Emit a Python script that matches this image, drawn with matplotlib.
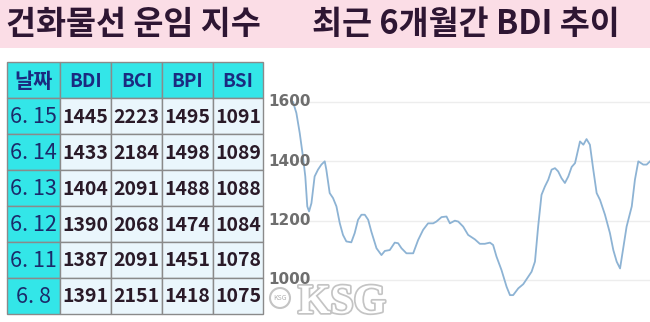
import matplotlib
matplotlib.use("Agg")
import matplotlib.pyplot as plt
import matplotlib.patheffects as pe
from matplotlib.patches import Rectangle

plt.rcParams['font.family'] = ['Noto Sans CJK KR', 'DejaVu Sans']

title_left = "건화물선 운임 지수"
title_right = "최근 6개월간 BDI 추이"

columns = ["날짜", "BDI", "BCI", "BPI", "BSI"]
dates = ["6. 15", "6. 14", "6. 13", "6. 12", "6. 11", "6. 8"]
bdi = [1445, 1433, 1404, 1390, 1387, 1391]
bci = [2223, 2184, 2091, 2068, 2091, 2151]
bpi = [1495, 1498, 1488, 1474, 1451, 1418]
bsi = [1091, 1089, 1088, 1084, 1078, 1075]

# 6-month BDI trend (day offset, value)
trend_days = [0, 1.7, 3.4, 5.0, 6.2, 7.2, 8.1, 9.3, 10.9, 12.6,
              14.3, 16.0, 16.8, 18.5, 20.2, 21.9, 23.6, 25.2, 26.9, 29.4,
              31.1, 32.8, 34.5, 36.2, 37.9, 39.5, 42.1, 44.6, 46.3, 48.8,
              51.3, 53.0, 54.7, 57.2, 60.6, 63.1, 65.6, 68.1, 70.7, 72.3,
              74.9, 77.4, 79.1, 81.6, 83.3, 85.8, 88.3, 91.7, 94.2, 96.7,
              99.3, 100.9, 102.6, 105.1, 107.7, 109.4, 111.0, 113.6, 116.1, 118.6,
              120.3, 122.0, 123.6, 125.3, 127.0, 128.7, 130.4, 132.1, 133.7, 135.4,
              137.1, 138.8, 140.5, 142.2, 144.7, 146.4, 148.0, 149.7, 151.4, 153.1,
              154.8, 157.3, 159.8, 161.5, 163.2, 164.9, 166.5, 168.2, 170.8, 172.4,
              174.1, 176.6, 178.3, 180.0]
trend_vals = [1600, 1563, 1495, 1417, 1349, 1248, 1231, 1259, 1349, 1372,
              1389, 1400, 1372, 1293, 1276, 1248, 1191, 1152, 1130, 1127,
              1158, 1203, 1220, 1220, 1203, 1163, 1107, 1084, 1098, 1101,
              1126, 1124, 1107, 1090, 1090, 1135, 1169, 1191, 1191, 1197,
              1212, 1214, 1191, 1200, 1197, 1180, 1152, 1137, 1122, 1122,
              1126, 1118, 1079, 1034, 977, 949, 949, 972, 986, 1011,
              1028, 1062, 1180, 1287, 1315, 1338, 1372, 1377, 1366, 1343,
              1327, 1349, 1381, 1394, 1467, 1456, 1475, 1456, 1372, 1293,
              1270, 1220, 1158, 1101, 1062, 1039, 1107, 1180, 1248, 1338,
              1400, 1389, 1389, 1400]
y_ticks = [1000, 1200, 1400, 1600]

W, H = 650, 322
fig = plt.figure(figsize=(W / 100, H / 100), dpi=100)
fig.patch.set_facecolor('white')

def fx(x):
    return x / W

def fy(y):
    return 1 - y / H

# background overlay axes in pixel coordinates
bg = fig.add_axes([0, 0, 1, 1])
bg.set_xlim(0, W)
bg.set_ylim(H, 0)
bg.axis('off')
bg.add_patch(Rectangle((0, 0), W, 48, facecolor='#FBDDE6', edgecolor='none'))
title_kw = dict(fontsize=23.5, fontweight='black', color='#2E1633', va='center')
bg.text(6, 24, title_left, ha='left', **title_kw)
bg.text(312, 24, title_right, ha='left', **title_kw)

# table
col_x = [7, 60, 111, 162, 213, 263]
row_y0 = 62
row_h = 36
cyan = '#33E6E8'
cell_bg = '#EAF6FC'
grid_c = '#8A8A8A'
for r in range(7):
    y = row_y0 + r * row_h
    for c in range(5):
        x0, x1 = col_x[c], col_x[c + 1]
        fc = cyan if (r == 0 or c == 0) else cell_bg
        bg.add_patch(Rectangle((x0, y), x1 - x0, row_h, facecolor=fc,
                               edgecolor=grid_c, linewidth=1.0))
        cx = (x0 + x1) / 2
        cy = y + row_h / 2 + 1
        if r == 0:
            bg.text(cx, cy, columns[c], ha='center', va='center',
                    fontsize=15 if c == 0 else 13.5,
                    fontweight='bold', color='#1B2A80')
        elif c == 0:
            bg.text(cx, cy, dates[r - 1], ha='center', va='center', fontsize=15.5,
                    color='#1B2A6A')
        else:
            vals = [bdi, bci, bpi, bsi][c - 1]
            bg.text(cx, cy, str(vals[r - 1]), ha='center', va='center', fontsize=14,
                    fontweight='bold', color='#2A1A28')

# line chart: y 1600 at px 102, 1000 at px 280; x from 293 to 650
y_top_px, y_bot_px = 102, 280
px_per_unit = (y_bot_px - y_top_px) / 600
ymin = 1000 - (322 - y_bot_px) / px_per_unit
ymax = 1600 + (y_top_px - 52) / px_per_unit
ax = fig.add_axes([fx(293), 0, fx(650 - 293), fy(52)])
ax.set_zorder(0)
ax.patch.set_alpha(0)
ax.set_ylim(ymin, ymax)
ax.set_xlim(0, 180)
for t in y_ticks:
    ax.axhline(t, color='#EDEDED', linewidth=1.0, zorder=1)
ax.plot(trend_days, trend_vals, color='#8DB3D4', linewidth=1.3, zorder=3)
for s in ax.spines.values():
    s.set_visible(False)
ax.set_xticks([])
ax.set_yticks([])
label_x = (268 - 293) / 357 * 180
for t in y_ticks:
    ax.text(label_x, t, str(t), ha='left', va='center', fontsize=11,
            fontweight='bold', color='#6E6E6E', family=['DejaVu Sans'], zorder=4)

# watermark
ov = fig.add_axes([0, 0, 1, 1])
ov.set_xlim(0, W)
ov.set_ylim(H, 0)
ov.axis('off')
ov.text(298, 303, "KSG", ha='left', va='center', fontsize=30, fontweight='bold',
        family=['Liberation Serif'], color='white',
        path_effects=[pe.withStroke(linewidth=2.5, foreground='#C4C4C4')])
circ = plt.Circle((280, 298), 10, facecolor='white', edgecolor='#C4C4C4', linewidth=1.5)
ov.add_patch(circ)
ov.text(280, 298, "KSG", ha='center', va='center', fontsize=5, color='#B0B0B0')

fig.savefig('out.png', dpi=100, facecolor='white')
